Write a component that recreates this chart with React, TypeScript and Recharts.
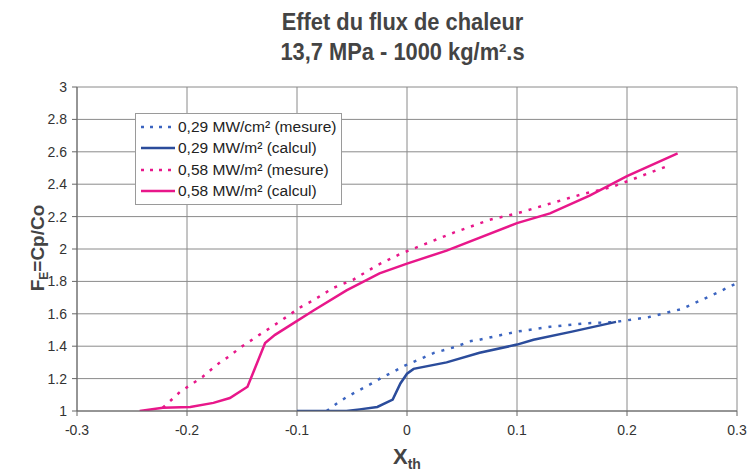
import React from "react";
import { LineChart, Line, XAxis, YAxis, CartesianGrid } from "recharts";

// 0,29 MW (mesure)
const blueMesureX = [-0.073, -0.063, -0.054, -0.043, -0.032, -0.022, -0.013, -0.002, 0.005, 0.015, 0.025, 0.036, 0.046, 0.057, 0.066, 0.1, 0.13, 0.16, 0.19, 0.22, 0.25, 0.282, 0.3];
const blueMesureY = [1.0, 1.05, 1.09, 1.13, 1.17, 1.21, 1.24, 1.28, 1.3, 1.33, 1.36, 1.38, 1.4, 1.43, 1.44, 1.49, 1.52, 1.54, 1.55, 1.58, 1.63, 1.73, 1.79];

// 0,29 MW (calcul)
const blueCalculX = [-0.1, -0.073, -0.055, -0.043, -0.027, -0.013, -0.006, 0, 0.006, 0.036, 0.066, 0.1, 0.115, 0.15, 0.19];
const blueCalculY = [1.0, 1.0, 1.0, 1.01, 1.025, 1.07, 1.17, 1.23, 1.26, 1.3, 1.36, 1.41, 1.44, 1.49, 1.55];

// 0,58 MW (mesure)
const pinkMesureX = [-0.222, -0.206, -0.197, -0.186, -0.179, -0.17, -0.161, -0.152, -0.143, -0.132, -0.125, -0.114, -0.097, -0.086, -0.067, -0.049, -0.027, -0.006, 0.042, 0.075, 0.1, 0.13, 0.16, 0.185, 0.205, 0.236];
const pinkMesureY = [1.02, 1.12, 1.16, 1.21, 1.25, 1.3, 1.34, 1.39, 1.43, 1.48, 1.51, 1.56, 1.64, 1.68, 1.76, 1.81, 1.9, 1.97, 2.1, 2.18, 2.22, 2.28, 2.34, 2.38, 2.43, 2.51];

// 0,58 MW (calcul)
const pinkCalculX = [-0.243, -0.222, -0.197, -0.176, -0.161, -0.145, -0.129, -0.12, -0.106, -0.085, -0.055, -0.025, 0, 0.036, 0.1, 0.13, 0.166, 0.2, 0.246];
const pinkCalculY = [1.0, 1.02, 1.025, 1.05, 1.08, 1.15, 1.42, 1.47, 1.53, 1.62, 1.745, 1.85, 1.91, 1.99, 2.16, 2.22, 2.33, 2.45, 2.59];

const xTicks = [-0.3, -0.2, -0.1, 0, 0.1, 0.2, 0.3];
const yTicks = [1, 1.2, 1.4, 1.6, 1.8, 2, 2.2, 2.4, 2.6, 2.8, 3];

const seriesNames = [
  "0,29 MW/cm² (mesure)",
  "0,29 MW/m² (calcul)",
  "0,58 MW/m² (mesure)",
  "0,58 MW/m² (calcul)",
];

const toPoints = (xs: number[], ys: number[]) => xs.map((x, i) => ({ x, y: ys[i] }));

const BLUE_DASH = "#3b64c0";
const BLUE = "#2b4c9b";
const PINK = "#e8178a";

const series = [
  { name: seriesNames[0], data: toPoints(blueMesureX, blueMesureY), color: BLUE_DASH, dash: "3 7" },
  { name: seriesNames[1], data: toPoints(blueCalculX, blueCalculY), color: BLUE, dash: undefined },
  { name: seriesNames[2], data: toPoints(pinkMesureX, pinkMesureY), color: PINK, dash: "3 7" },
  { name: seriesNames[3], data: toPoints(pinkCalculX, pinkCalculY), color: PINK, dash: undefined },
];

const font = "Arial, 'Liberation Sans', sans-serif";

// legend box like the excel one, placed over the plot
function LegendBox() {
  return (
    <div
      style={{
        position: "absolute",
        left: 135,
        top: 113,
        border: "1px solid #9a9a9a",
        background: "#fff",
        padding: "2px 4px 2px 4px",
        fontFamily: font,
        fontSize: 15.5,
        color: "#222",
        width: 197,
      }}
    >
      {series.map((s) => (
        <div key={s.name} style={{ display: "flex", alignItems: "center", height: 21.5, whiteSpace: "nowrap" }}>
          <svg width={36} height={10} style={{ marginRight: 2 }}>
            <line x1={1} y1={5} x2={35} y2={5} stroke={s.color} strokeWidth={2.5} strokeDasharray={s.dash ? "3 6" : undefined} />
          </svg>
          <span>{s.name}</span>
        </div>
      ))}
    </div>
  );
}

const fmt = (v: number) => String(Math.round(v * 10) / 10);

export default function App() {
  return (
    <div style={{ position: "absolute", left: 0, top: 0, width: 749, height: 475, background: "#fff", fontFamily: font }}>
      <LineChart width={749} height={475} margin={{ top: 87, right: 12, bottom: 34, left: 0 }}>
        <CartesianGrid stroke="#8a8a8a" strokeWidth={1} horizontalValues={yTicks} verticalValues={xTicks} />
        <XAxis
          type="number"
          dataKey="x"
          domain={[-0.3, 0.3]}
          ticks={xTicks}
          tickFormatter={fmt}
          height={30}
          stroke="#666"
          tickSize={5}
          tickMargin={9}
          tick={{ fill: "#333", fontSize: 14, fontFamily: font }}
          allowDataOverflow
        />
        <YAxis
          type="number"
          dataKey="y"
          domain={[1, 3]}
          ticks={yTicks}
          tickFormatter={fmt}
          width={77}
          stroke="#666"
          tickSize={5}
          tickMargin={5}
          tick={{ fill: "#333", fontSize: 14, fontFamily: font }}
          allowDataOverflow
        />
        {series.map((s) => (
          <Line
            key={s.name}
            name={s.name}
            data={s.data}
            dataKey="y"
            type="linear"
            stroke={s.color}
            strokeWidth={2.5}
            strokeDasharray={s.dash}
            dot={false}
            activeDot={false}
            isAnimationActive={false}
          />
        ))}
      </LineChart>
      <div style={{ position: "absolute", top: 7, left: 0, width: 805, textAlign: "center", fontWeight: 700, fontSize: 23, color: "#444", lineHeight: "30px", transform: "scaleX(0.95)" }}>
        Effet du flux de chaleur
        <br />
        13,7 MPa - 1000 kg/m².s
      </div>
      <div
        style={{
          position: "absolute",
          left: 39,
          top: 248,
          transform: "translate(-50%, -50%) rotate(-90deg)",
          fontWeight: 700,
          fontSize: 19,
          color: "#444",
          whiteSpace: "nowrap",
        }}
      >
        F<sub style={{ fontSize: 12 }}>E</sub>=Cp/Co
      </div>
      <div style={{ position: "absolute", left: 393, top: 444, fontWeight: 700, fontSize: 22, color: "#444" }}>
        X<sub style={{ fontSize: 14 }}>th</sub>
      </div>
      <LegendBox />
    </div>
  );
}
